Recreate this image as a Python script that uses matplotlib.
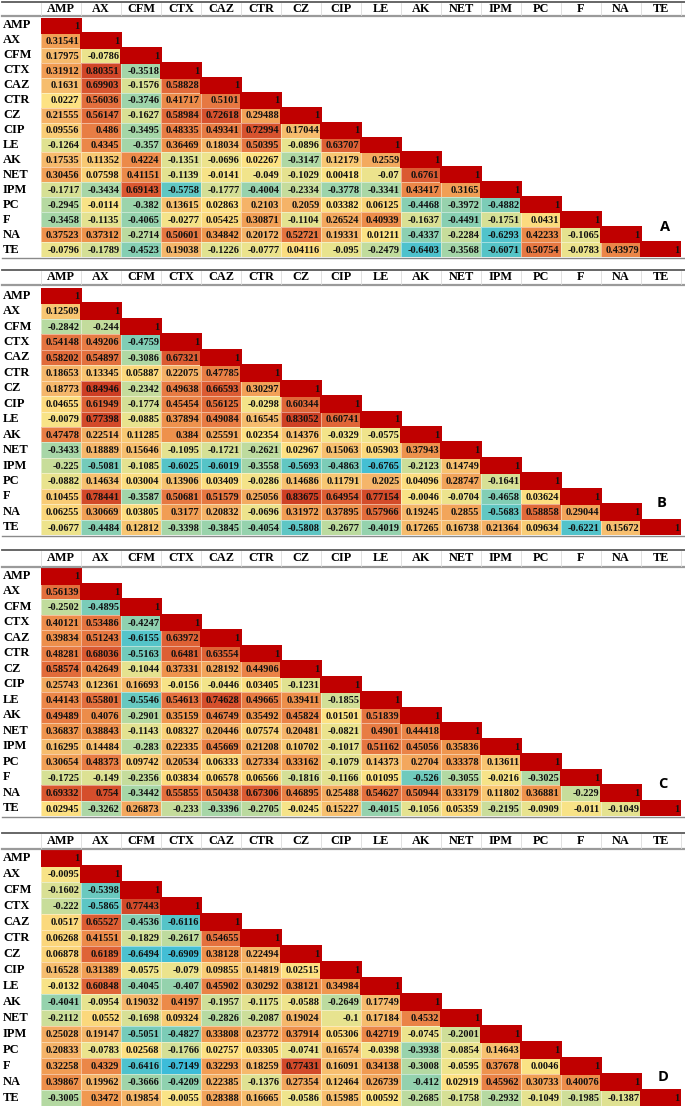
import numpy as np
import matplotlib
matplotlib.use('Agg')
import matplotlib.pyplot as plt
from matplotlib.colors import LinearSegmentedColormap, ListedColormap
from matplotlib.lines import Line2D

# ---------- data (lower triangle, row by row) ----------
labels = ['AMP', 'AX', 'CFM', 'CTX', 'CAZ', 'CTR', 'CZ', 'CIP', 'LE', 'AK',
          'NET', 'IPM', 'PC', 'F', 'NA', 'TE']

panel_a = [
    [0.31541],
    [0.17975, -0.0786],
    [0.31912, 0.80351, -0.3518],
    [0.1631, 0.69903, -0.1576, 0.58828],
    [0.0227, 0.56036, -0.3746, 0.41717, 0.5101],
    [0.21555, 0.56147, -0.1627, 0.58984, 0.72618, 0.29488],
    [0.09556, 0.486, -0.3495, 0.48335, 0.49341, 0.72994, 0.17044],
    [-0.1264, 0.4345, -0.357, 0.36469, 0.18034, 0.50395, -0.0896, 0.63707],
    [0.17535, 0.11352, 0.4224, -0.1351, -0.0696, 0.02267, -0.3147, 0.12179, 0.2559],
    [0.30456, 0.07598, 0.41151, -0.1139, -0.0141, -0.049, -0.1029, 0.00418, -0.07, 0.6761],
    [-0.1717, -0.3434, 0.69143, -0.5758, -0.1777, -0.4004, -0.2334, -0.3778, -0.3341, 0.43417, 0.3165],
    [-0.2945, -0.0114, -0.382, 0.13615, 0.02863, 0.2103, 0.2059, 0.03382, 0.06125, -0.4468, -0.3972, -0.4882],
    [-0.3458, -0.1135, -0.4065, -0.0277, 0.05425, 0.30871, -0.1104, 0.26524, 0.40939, -0.1637, -0.4491, -0.1751, 0.0431],
    [0.37523, 0.37312, -0.2714, 0.50601, 0.34842, 0.20172, 0.52721, 0.19331, 0.01211, -0.4337, -0.2284, -0.6293, 0.42233, -0.1065],
    [-0.0796, -0.1789, -0.4523, 0.19038, -0.1226, -0.0777, 0.04116, -0.095, -0.2479, -0.6403, -0.3568, -0.6071, 0.50754, -0.0783, 0.43979],
]

panel_b = [
    [0.12509],
    [-0.2842, -0.244],
    [0.54148, 0.49206, -0.4759],
    [0.58202, 0.54897, -0.3086, 0.67321],
    [0.18653, 0.13345, 0.05887, 0.22075, 0.47785],
    [0.18773, 0.84946, -0.2342, 0.49638, 0.66593, 0.30297],
    [0.04655, 0.61949, -0.1774, 0.45454, 0.56125, -0.0298, 0.60344],
    [-0.0079, 0.77398, -0.0885, 0.37894, 0.49084, 0.16545, 0.83052, 0.60741],
    [0.47478, 0.22514, 0.11285, 0.384, 0.25591, 0.02354, 0.14376, -0.0329, -0.0575],
    [-0.3433, 0.18889, 0.15646, -0.1095, -0.1721, -0.2621, 0.02967, 0.15063, 0.05903, 0.37943],
    [-0.225, -0.5081, -0.1085, -0.6025, -0.6019, -0.3558, -0.5693, -0.4863, -0.6765, -0.2123, 0.14749],
    [-0.0882, 0.14634, 0.03004, 0.13906, 0.03409, -0.0286, 0.14686, 0.11791, 0.2025, 0.04096, 0.28747, -0.1641],
    [0.10455, 0.78441, -0.3587, 0.50681, 0.51579, 0.25056, 0.83675, 0.64954, 0.77154, -0.0046, -0.0704, -0.4658, 0.03624],
    [0.06255, 0.30669, 0.03805, 0.3177, 0.20832, -0.0696, 0.31972, 0.37895, 0.57966, 0.19245, 0.2855, -0.5683, 0.58858, 0.29044],
    [-0.0677, -0.4484, 0.12812, -0.3398, -0.3845, -0.4054, -0.5808, -0.2677, -0.4019, 0.17265, 0.16738, 0.21364, 0.09634, -0.6221, 0.15672],
]

panel_c = [
    [0.56139],
    [-0.2502, -0.4895],
    [0.40121, 0.53486, -0.4247],
    [0.39834, 0.51243, -0.6155, 0.63972],
    [0.48281, 0.68036, -0.5163, 0.6481, 0.63554],
    [0.58574, 0.42649, -0.1044, 0.37331, 0.28192, 0.44906],
    [0.25743, 0.12361, 0.16693, -0.0156, -0.0446, 0.03405, -0.1231],
    [0.44143, 0.55801, -0.5546, 0.54613, 0.74628, 0.49665, 0.39411, -0.1855],
    [0.49489, 0.4076, -0.2901, 0.35159, 0.46749, 0.35492, 0.45824, 0.01501, 0.51839],
    [0.36837, 0.38843, -0.1143, 0.08327, 0.20446, 0.07574, 0.20481, -0.0821, 0.4901, 0.44418],
    [0.16295, 0.14484, -0.283, 0.22335, 0.45669, 0.21208, 0.10702, -0.1017, 0.51162, 0.45056, 0.35836],
    [0.30654, 0.48373, 0.09742, 0.20534, 0.06333, 0.27334, 0.33162, -0.1079, 0.14373, 0.2704, 0.33378, 0.13611],
    [-0.1725, -0.149, -0.2356, 0.03834, 0.06578, 0.06566, -0.1816, -0.1166, 0.01095, -0.526, -0.3055, -0.0216, -0.3025],
    [0.69332, 0.754, -0.3442, 0.55855, 0.50438, 0.67306, 0.46895, 0.25488, 0.54627, 0.50944, 0.33179, 0.11802, 0.36881, -0.229],
    [0.02945, -0.3262, 0.26873, -0.233, -0.3396, -0.2705, -0.0245, 0.15227, -0.4015, -0.1056, 0.05359, -0.2195, -0.0909, -0.011, -0.1049],
]

panel_d = [
    [-0.0095],
    [-0.1602, -0.5398],
    [-0.222, -0.5865, 0.77443],
    [0.0517, 0.65527, -0.4536, -0.6116],
    [0.06268, 0.41551, -0.1829, -0.2617, 0.54655],
    [0.06878, 0.6189, -0.6494, -0.6909, 0.38128, 0.22494],
    [0.16528, 0.31389, -0.0575, -0.079, 0.09855, 0.14819, 0.02515],
    [-0.0132, 0.60848, -0.4045, -0.407, 0.45902, 0.30292, 0.38121, 0.34984],
    [-0.4041, -0.0954, 0.19032, 0.4197, -0.1957, -0.1175, -0.0588, -0.2649, 0.17749],
    [-0.2112, 0.0552, -0.1698, 0.09324, -0.2826, -0.2087, 0.19024, -0.1, 0.17184, 0.4532],
    [0.25028, 0.19147, -0.5051, -0.4827, 0.33808, 0.23772, 0.37914, 0.05306, 0.42719, -0.0745, -0.2001],
    [0.20833, -0.0783, 0.02568, -0.1766, 0.02757, 0.03305, -0.0741, 0.16574, -0.0398, -0.3938, -0.0854, 0.14643],
    [0.32258, 0.4329, -0.6416, -0.7149, 0.32293, 0.18259, 0.77431, 0.16091, 0.34138, -0.3008, -0.0595, 0.37678, 0.0046],
    [0.39867, 0.19962, -0.3666, -0.4209, 0.22385, -0.1376, 0.27354, 0.12464, 0.26739, -0.412, 0.02919, 0.45962, 0.30733, 0.40076],
    [-0.3005, 0.3472, 0.19854, -0.0055, 0.28388, 0.16665, -0.0586, 0.15985, 0.00592, -0.2685, -0.1758, -0.2932, -0.1049, -0.1985, -0.1387],
]

panel_names = ['A', 'B', 'C', 'D']

# ---------- layout (pixels) ----------
W, H = 685, 1106
GRID_L, GRID_R = 41, 681
# header top, header bottom, cells top, cells bottom, letter x, letter y
geom = [
    (2, 16, 18, 257, 665, 227),
    (270, 285, 288, 535, 662, 503),
    (550, 567, 568, 816, 663, 784),
    (833, 849, 850, 1106, 663, 1077),
]

serif = ['Liberation Serif', 'DejaVu Serif']

vmin, vmax = -0.72, 0.88
anchors = [(-0.72, '#3dbcd9'), (-0.6, '#58c5c6'), (-0.45, '#88cfb2'),
           (-0.3, '#b4d9a2'), (-0.15, '#dce193'), (-0.05, '#f1e48b'),
           (0.02, '#fde283'), (0.1, '#f9cc75'), (0.2, '#f5b56a'),
           (0.35, '#f0984f'), (0.5, '#e77a43'), (0.65, '#dd5f34'),
           (0.88, '#cb3a22')]
cmap = LinearSegmentedColormap.from_list(
    'xl', [((v - vmin) / (vmax - vmin), c) for v, c in anchors])
diag_cmap = ListedColormap(['#c00000'])


def full_matrix(rows):
    n = len(labels)
    m = np.full((n, n), np.nan)
    for i, r in enumerate(rows, start=1):
        m[i, :len(r)] = r
    return m


def fx(px):
    return px / W


def fy(py):
    return 1 - py / H


fig = plt.figure(figsize=(W / 100, H / 100), dpi=100)
n = len(labels)

for rows, name, (h_top, h_bot, c_top, c_bot, lx, ly) in zip(
        [panel_a, panel_b, panel_c, panel_d], panel_names, geom):
    m = full_matrix(rows)
    ax = fig.add_axes([fx(GRID_L), fy(c_bot), fx(GRID_R - GRID_L),
                       (c_bot - c_top) / H])
    ax.pcolormesh(np.ma.masked_invalid(m), cmap=cmap, vmin=vmin, vmax=vmax,
                  edgecolors=(1, 1, 1, 0.45), linewidth=0.4)
    diag = np.where(np.eye(n) == 1, 1.0, np.nan)
    ax.pcolormesh(np.ma.masked_invalid(diag), cmap=diag_cmap,
                  edgecolors='face', linewidth=0.3)
    ax.set_xlim(0, n)
    ax.set_ylim(n, 0)
    for i in range(n):
        for j in range(i + 1):
            txt = '1' if i == j else repr(float(m[i, j]))
            ax.text(j + 0.96, i + 0.55, txt, ha='right', va='center',
                    fontsize=7.5, fontweight='bold', family=serif,
                    color='#111111')
    ax.set_xticks(np.arange(n) + 0.5)
    ax.set_xticklabels(labels, fontsize=8.8, fontweight='bold', family=serif)
    ax.xaxis.tick_top()
    ax.tick_params(axis='x', length=0, pad=(c_top - (h_top + h_bot) / 2) * 0.72 - 4)
    ax.set_yticks(np.arange(n) + 0.5)
    ax.set_yticklabels(labels, fontsize=9, fontweight='bold', family=serif,
                       ha='left', va='center')
    ax.tick_params(axis='y', length=0, pad=(GRID_L - 3) * 0.72)
    for s in ax.spines.values():
        s.set_visible(False)

    # header rules and separators
    fig.add_artist(Line2D([fx(2), 1], [fy(h_top), fy(h_top)],
                          color='#5a5a5a', lw=1.3))
    fig.add_artist(Line2D([fx(2), 1], [fy(h_bot), fy(h_bot)],
                          color='#9a9a9a', lw=1.6))
    fig.add_artist(Line2D([fx(2), 1], [fy(c_bot + 1), fy(c_bot + 1)],
                          color='#8a8a8a', lw=1.0))
    for k in range(n + 1):
        xp = GRID_L + k * (GRID_R - GRID_L) / n
        fig.add_artist(Line2D([fx(xp), fx(xp)], [fy(h_top + 1), fy(h_bot - 1)],
                              color='#dcdcdc', lw=0.6))

    fig.text(fx(lx), fy(ly), name, ha='center', va='center', fontsize=10.5,
             fontweight='bold', family=['Open Sans', 'DejaVu Sans'])

fig.savefig('out.png', dpi=100)
